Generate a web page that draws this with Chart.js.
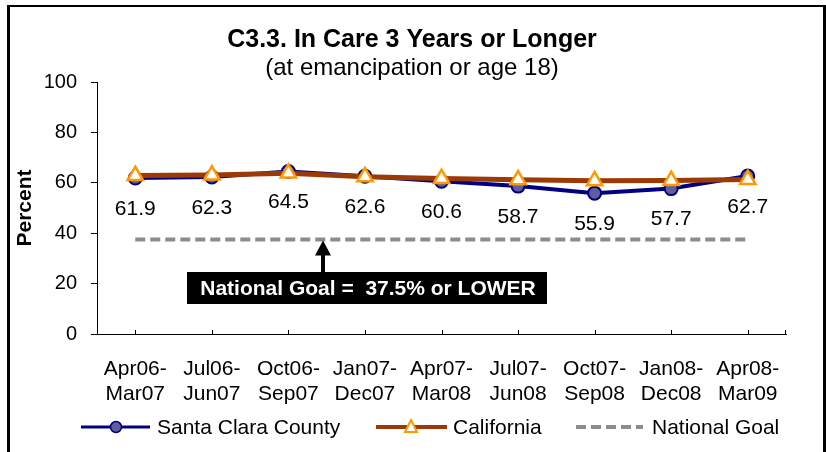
<!DOCTYPE html>
<html>
<head>
<meta charset="utf-8">
<script src="https://cdn.jsdelivr.net/npm/chart.js@4"></script>
<style>
  html, body { margin: 0; padding: 0; background: #fff; }
</style>
</head>
<body>
<canvas id="myChart" width="826" height="452"></canvas>
<script>
const periods = [
  ['Apr06-', 'Mar07'], ['Jul06-', 'Jun07'], ['Oct06-', 'Sep07'],
  ['Jan07-', 'Dec07'], ['Apr07-', 'Mar08'], ['Jul07-', 'Jun08'],
  ['Oct07-', 'Sep08'], ['Jan08-', 'Dec08'], ['Apr08-', 'Mar09']
];
const santaClara = [61.9, 62.3, 64.5, 62.6, 60.6, 58.7, 55.9, 57.7, 62.7];
const california = [62.9, 63.1, 63.8, 62.4, 61.7, 61.2, 60.8, 60.9, 61.3];
const nationalGoal = [37.5, 37.5, 37.5, 37.5, 37.5, 37.5, 37.5, 37.5, 37.5];
const yTicks = [0, 20, 40, 60, 80, 100];

const FONT = "'Liberation Sans', Arial, sans-serif";
const NAVY = '#000080', NAVY_FILL = '#5e5e9e';
const BROWN = '#9c3a06', ORANGE = '#ff9900', GOAL_GREY = '#8c8c8c';

// titles, value labels, goal note, legend and frame
const extras = {
    id: 'extras',
    afterDraw(chart) {
        const ctx = chart.ctx;
        const x = chart.scales.x, y = chart.scales.y;
        ctx.save();
        ctx.textAlign = 'center';
        ctx.textBaseline = 'middle';

        // titles
        ctx.fillStyle = '#000';
        ctx.font = 'bold 25px ' + FONT;
        ctx.fillText('C3.3. In Care 3 Years or Longer', 412, 40);
        ctx.font = '24px ' + FONT;
        ctx.fillText('(at emancipation or age 18)', 412, 68);

        // x axis small inward ticks
        ctx.strokeStyle = '#000'; ctx.lineWidth = 1;
        ctx.beginPath();
        for (let i = 0; i < periods.length; i++) {
            const px = Math.round(x.getPixelForValue(i)) + 0.5;
            ctx.moveTo(px, y.bottom); ctx.lineTo(px, y.bottom - 4);
        }
        ctx.moveTo(x.right - 0.5, y.bottom); ctx.lineTo(x.right - 0.5, y.bottom - 4);
        ctx.stroke();

        // value labels under Santa Clara points
        ctx.font = '21px ' + FONT;
        santaClara.forEach((v, i) => {
            ctx.fillText(v.toFixed(1), x.getPixelForValue(i), y.getPixelForValue(v) + 31);
        });

        // arrow + box
        const gy = y.getPixelForValue(37.5);
        const ax = 323;
        const boxTop = 272, boxBot = 304;
        ctx.strokeStyle = '#000'; ctx.lineWidth = 4;
        ctx.beginPath(); ctx.moveTo(ax, boxTop); ctx.lineTo(ax, gy + 14); ctx.stroke();
        ctx.fillStyle = '#000';
        ctx.beginPath(); ctx.moveTo(ax, gy + 1); ctx.lineTo(ax + 8, gy + 16); ctx.lineTo(ax - 8, gy + 16); ctx.closePath(); ctx.fill();
        ctx.fillRect(187, boxTop, 360, boxBot - boxTop);
        ctx.fillStyle = '#fff';
        ctx.font = 'bold 21px ' + FONT;
        ctx.fillText('National Goal =  37.5% or LOWER', 368, (boxTop + boxBot) / 2 + 1);

        // legend
        const ly = 427;
        ctx.textAlign = 'left';
        ctx.fillStyle = '#000';
        ctx.font = '21px ' + FONT;
        ctx.lineWidth = 3; ctx.strokeStyle = NAVY;
        ctx.beginPath(); ctx.moveTo(81, ly); ctx.lineTo(150, ly); ctx.stroke();
        ctx.fillStyle = NAVY_FILL; ctx.lineWidth = 1.5;
        ctx.beginPath(); ctx.arc(116, ly, 5.5, 0, Math.PI * 2); ctx.fill(); ctx.stroke();
        ctx.fillStyle = '#000';
        ctx.fillText('Santa Clara County', 157, ly + 1);

        ctx.lineWidth = 4; ctx.strokeStyle = BROWN;
        ctx.beginPath(); ctx.moveTo(376, ly); ctx.lineTo(447, ly); ctx.stroke();
        ctx.fillStyle = '#fff'; ctx.strokeStyle = ORANGE; ctx.lineWidth = 2;
        ctx.beginPath(); ctx.moveTo(411, ly - 7); ctx.lineTo(417, ly + 5); ctx.lineTo(405, ly + 5); ctx.closePath();
        ctx.fill(); ctx.stroke();
        ctx.fillStyle = '#000';
        ctx.fillText('California', 453, ly + 1);

        ctx.lineWidth = 4; ctx.strokeStyle = GOAL_GREY; ctx.setLineDash([10, 5]);
        ctx.beginPath(); ctx.moveTo(576, ly); ctx.lineTo(643, ly); ctx.stroke();
        ctx.setLineDash([]);
        ctx.fillText('National Goal', 652, ly + 1);

        // frame
        ctx.fillStyle = '#000';
        ctx.fillRect(7, 5, 3, 447);
        ctx.fillRect(7, 5, 819, 2);
        ctx.fillRect(823, 5, 3, 447);
        ctx.restore();
    }
};

const ctx = document.getElementById('myChart').getContext('2d');
new Chart(ctx, {
    type: 'line',
    data: {
        labels: periods,
        datasets: [
            {
                label: 'Santa Clara County',
                data: santaClara,
                borderColor: NAVY,
                borderWidth: 4,
                pointStyle: 'circle',
                pointRadius: 6.5,
                pointBackgroundColor: NAVY_FILL,
                pointBorderColor: NAVY,
                pointBorderWidth: 2,
                order: 2
            },
            {
                label: 'California',
                data: california,
                borderColor: BROWN,
                borderWidth: 5,
                pointStyle: 'triangle',
                pointRadius: 8.8,
                pointBackgroundColor: '#fff',
                pointBorderColor: ORANGE,
                pointBorderWidth: 2.5,
                order: 1
            },
            {
                label: 'National Goal',
                data: nationalGoal,
                borderColor: GOAL_GREY,
                borderWidth: 4,
                borderDash: [10, 5],
                pointRadius: 0,
                order: 3
            }
        ]
    },
    options: {
        responsive: false,
        animation: false,
        layout: { padding: { left: 0, right: 40, top: 82, bottom: 0 } },
        plugins: {
            legend: { display: false },
            tooltip: { enabled: false }
        },
        scales: {
            x: {
                offset: true,
                afterFit(scale) { scale.height = 118; },
                grid: { display: false, drawTicks: false },
                border: { color: '#000', width: 1 },
                ticks: {
                    color: '#000', font: { family: FONT, size: 21, lineHeight: 1.167 },
                    maxRotation: 0, padding: 23, autoSkip: false
                }
            },
            y: {
                min: 0, max: 100,
                afterFit(scale) { scale.width = 97; },
                afterBuildTicks(axis) { axis.ticks = yTicks.map(v => ({ value: v })); },
                grid: { display: true, drawOnChartArea: false, tickLength: 6, color: '#000' },
                border: { color: '#000', width: 1 },
                title: {
                    display: true, text: 'Percent', color: '#000',
                    font: { family: FONT, size: 21, weight: 'bold' }, padding: { top: 13, bottom: 0 }
                },
                ticks: { color: '#000', font: { family: FONT, size: 20 }, padding: 14 }
            }
        }
    },
    plugins: [extras]
});
</script>
</body>
</html>
